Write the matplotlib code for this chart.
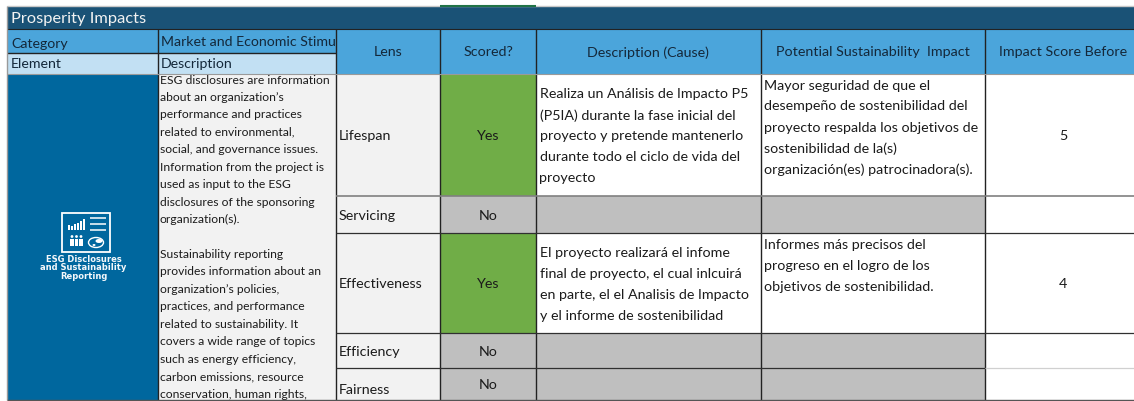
import matplotlib
matplotlib.use('Agg')
import matplotlib.pyplot as plt
from matplotlib.patches import Rectangle, Circle, Ellipse

title = 'Prosperity Impacts'
category = ['Category', 'Market and Economic Stimulus']
element = ['Element', 'Description']
element_name = ['ESG Disclosures', 'and Sustainability', 'Reporting']
element_text = [
    'ESG disclosures are information', 'about an organization’s',
    'performance and practices', 'related to environmental,',
    'social, and governance issues.', 'Information from the project is',
    'used as input to the ESG', 'disclosures of the sponsoring',
    'organization(s).', '',
    'Sustainability reporting', 'provides information about an',
    'organization’s policies,', 'practices, and performance',
    'related to sustainability. It', 'covers a wide range of topics',
    'such as energy efficiency,', 'carbon emissions, resource',
    'conservation, human rights,',
]
headers = ['Lens', 'Scored?', 'Description (Cause)',
           'Potential Sustainability  Impact', 'Impact Score Before']
lenses = ['Lifespan', 'Servicing', 'Effectiveness', 'Efficiency', 'Fairness']
scored = ['Yes', 'No', 'Yes', 'No', 'No']
causes = [
    ['Realiza un Análisis de Impacto P5', '(P5IA) durante la fase inicial del',
     'proyecto y pretende mantenerlo', 'durante todo el ciclo de vida del', 'proyecto'],
    [],
    ['El proyecto realizará el infome', 'final de proyecto, el cual inlcuirá',
     'en parte, el el Analisis de Impacto', 'y el informe de sostenibilidad'],
    [], [],
]
impacts = [
    ['Mayor seguridad de que el', 'desempeño de sostenibilidad del',
     'proyecto respalda los objetivos de', 'sostenibilidad de la(s)',
     'organización(es) patrocinadora(s).'],
    [],
    ['Informes más precisos del', 'progreso en el logro de los',
     'objetivos de sostenibilidad.'],
    [], [],
]
scores = ['5', '', '4', '', '']

# layout in pixels, last column runs past the right edge of the picture
W, H = 1134, 401
col_x = [157.5, 335.5, 440, 536, 760.5, 984.5, 1142]
row_y = [73.5, 196, 233, 333, 368, 400]
lens_dy = [1, 1, 1, 1, 6]
left = 7
FS = 10.3

plt.rcParams['font.family'] = ['Lato', 'DejaVu Sans']
fig = plt.figure(figsize=(W / 100, H / 100), dpi=100)
ax = fig.add_axes([0, 0, 1, 1])
ax.set_xlim(0, W)
ax.set_ylim(H, 0)
ax.axis('off')

DARK = '#1a5276'
BLUE = '#4ba5db'
TXT = '#1b1b1b'


def box(x0, y0, x1, y1, color, z=1):
    ax.add_patch(Rectangle((x0, y0), x1 - x0, y1 - y0, fc=color, ec='none', zorder=z))


def line(x0, y0, x1, y1, color='#222222', lw=1.0):
    ax.plot([x0, x1], [y0, y1], color=color, lw=lw, zorder=3, solid_capstyle='butt')


def put(x, y, s, ha='left', size=FS, color=TXT, **kw):
    return ax.text(x, y, s, ha=ha, va='center', fontsize=size, color=color, zorder=4, **kw)


# top rule and green tab
line(7, 6, W, 6, '#c8c8c8', 1.0)
line(440, 5.5, 536, 5.5, '#217346', 1.5)

# title band
box(left, 6.5, W, 29, DARK)
put(11, 18.5, title, size=11.8, color='#f2f2f2')

# category / element header
box(left, 29, col_x[1], 52.5, BLUE)
box(left, 52.5, col_x[1], 73.5, '#c2e0f3')
put(11, 43.5, category[0], color='#14283a', size=10.2)
txt = put(161, 41.5, category[1], color='#14283a', size=10.2)
txt.set_clip_path(Rectangle((157, 29), 178, 24, transform=ax.transData))
txt.set_clip_on(True)
put(11, 64.5, element[0], color='#14283a', size=10.2)
put(161, 64.5, element[1], color='#14283a', size=10.2)

# header cells
box(col_x[1], 29, W, 73.5, BLUE)
for i, h in enumerate(headers):
    put((col_x[i + 1] + col_x[i + 2]) / 2, 52.5, h, ha='center', color='#14283a')

# left element panel
box(left, 73.5, col_x[0], 400, '#00679e')
box(col_x[0], 73.5, col_x[1], 400, '#f2f2f2')

# icon
ax.add_patch(Rectangle((62, 213), 48, 39, fc='none', ec='white', lw=1.3, zorder=4))
for bx, bh in zip([68, 71, 74, 77, 80, 83], [5, 4, 6, 7, 9, 11]):
    box(bx, 230 - bh, bx + 1.8, 230, 'white', 4)
for ly in [217.5, 224, 230]:
    line(90, ly, 106, ly, 'white', 1.1)
for px in [72, 76.5, 81]:
    ax.add_patch(Circle((px, 236.5), 1.4, fc='white', ec='none', zorder=4))
    box(px - 1.6, 238.5, px + 1.6, 246, 'white', 4)
ax.add_patch(Ellipse((96, 242.5), 15, 10, fc='none', ec='white', lw=1.0, zorder=4))
ax.add_patch(Ellipse((99, 241), 7, 4, fc='white', ec='none', zorder=4))
ax.add_patch(Ellipse((94, 245), 3, 2, fc='white', ec='none', zorder=4))
for i, s in enumerate(element_name):
    put(83.5, 259 + i * 8.6, s, ha='center', size=6, color='#f4f8fb',
        fontweight='bold', family='DejaVu Sans')

# element description
for i, s in enumerate(element_text):
    if s:
        put(160, 80 + i * 17.45, s, size=8.7)

# rows
for i in range(5):
    y0, y1 = row_y[i], row_y[i + 1]
    mid = (y0 + y1) / 2
    box(col_x[1], y0, col_x[2], y1, '#f2f2f2')
    yes = scored[i] == 'Yes'
    box(col_x[2], y0, col_x[3], y1, '#70ad47' if yes else '#bfbfbf')
    for c in (3, 4):
        box(col_x[c], y0, col_x[c + 1], y1, 'white' if yes else '#bfbfbf')
    put(col_x[1] + 3, mid + lens_dy[i], lenses[i])
    put((col_x[2] + col_x[3]) / 2, mid + 1, scored[i], ha='center')
    if scores[i]:
        put((col_x[5] + col_x[6]) / 2, mid + 1, scores[i], ha='center')

    n = len(causes[i])
    for j, s in enumerate(causes[i]):
        put(539.5, mid + 1.5 + (j - (n - 1) / 2) * 21, s)
    for j, s in enumerate(impacts[i]):
        put(763.5, y0 + 12 + j * 21, s)

# grid lines
for x in col_x[:-1]:
    line(x, 29, x, 400, '#222222', 1.0)
line(left, 52.5, col_x[1], 52.5, '#222222', 1.0)
line(left, 29, W, 29, '#222222', 0.8)
line(left, 73.5, W, 73.5, '#9a9a9a', 0.8)
line(col_x[1], 196, W, 196, '#808080', 1.2)
for y in row_y[2:4]:
    line(col_x[1], y, W, y, '#303030', 0.9)
line(col_x[1], 368, col_x[5], 368, '#303030', 0.9)
line(col_x[5], 368, W, 368, '#d0d0d0', 0.9)
line(left, 6, left, 400, '#9a9a9a', 1.0)
line(left, 400.3, W, 400.3, '#555555', 1.0)

fig.savefig('out.png', dpi=100)
